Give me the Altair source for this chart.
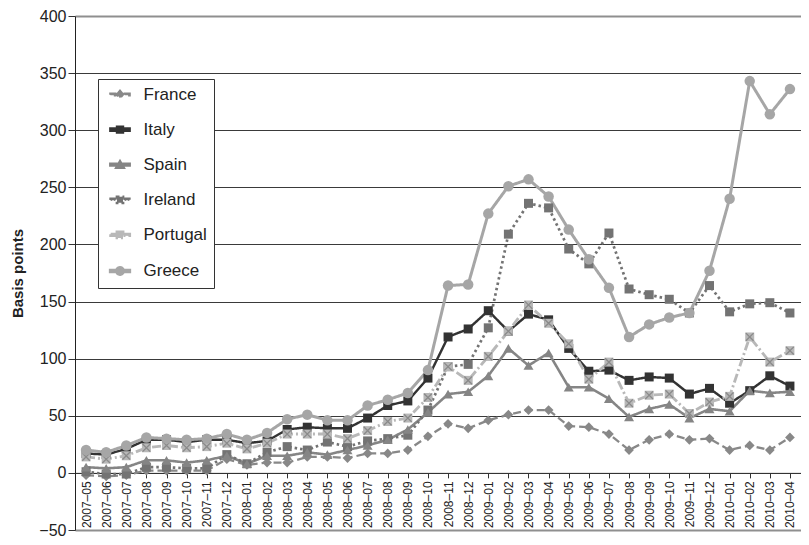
import altair as alt
import pandas as pd

months = ["2007–05", "2007–06", "2007–07", "2007–08", "2007–09", "2007–10", "2007–11", "2007–12",
          "2008–01", "2008–02", "2008–03", "2008–04", "2008–05", "2008–06", "2008–07", "2008–08",
          "2008–09", "2008–10", "2008–11", "2008–12", "2009–01", "2009–02", "2009–03", "2009–04",
          "2009–05", "2009–06", "2009–07", "2009–08", "2009–09", "2009–10", "2009–11", "2009–12",
          "2010–01", "2010–02", "2010–03", "2010–04"]

countries = ["France", "Italy", "Spain", "Ireland", "Portugal", "Greece"]

france = [-2, -3, -2, 2, 2, 2, 2, 12, 7, 9, 9, 14, 14, 13, 17, 17, 20, 32,
          43, 39, 46, 51, 55, 55, 41, 40, 34, 20, 29, 34, 29, 30, 20, 24, 20, 31]
italy = [17, 16, 21, 29, 29, 27, 29, 29, 26, 28, 38, 40, 39, 39, 48, 59, 63, 83,
         119, 126, 142, 124, 139, 134, 109, 89, 90, 81, 84, 83, 69, 74, 61, 72, 85, 76]
spain = [5, 4, 5, 11, 11, 9, 11, 15, 8, 15, 15, 18, 16, 20, 24, 29, 38, 53,
         69, 71, 85, 109, 94, 105, 75, 75, 65, 49, 56, 60, 48, 56, 54, 72, 70, 71]
ireland = [1, -1, -1, 5, 5, 4, 4, 16, 8, 18, 23, 20, 27, 23, 28, 30, 33, 55,
           93, 95, 127, 209, 236, 232, 196, 183, 210, 161, 156, 152, 140, 164, 141, 148, 149, 140]
portugal = [14, 12, 15, 22, 24, 22, 23, 26, 21, 26, 34, 34, 34, 30, 37, 45, 48, 66,
            93, 81, 102, 124, 147, 131, 113, 82, 97, 61, 68, 69, 52, 62, 67, 119, 97, 107]
greece = [20, 18, 24, 31, 30, 29, 30, 34, 29, 35, 47, 51, 46, 46, 59, 64, 70, 90,
          164, 165, 227, 251, 257, 242, 213, 187, 162, 119, 130, 136, 140, 177, 240, 343, 314, 336]

y_ticks = [-50, 0, 50, 100, 150, 200, 250, 300, 350, 400]

series = [france, italy, spain, ireland, portugal, greece]
rows = []
for c, vals in zip(countries, series):
    for m, v in zip(months, vals):
        rows.append({"month": m, "country": c, "value": v})
df = pd.DataFrame(rows)

FONT = "Liberation Sans"
colors = ["#888888", "#333333", "#858585", "#737373", "#b8b8b8", "#a6a6a6"]
dashes = [[8, 4], [1, 0], [1, 0], [2.5, 3], [9, 3, 2, 3], [1, 0]]
widths = [2.3, 3, 2.5, 2.5, 2.5, 2.5]

LEFT, TOP = 67, 8
W, H = 726, 514

# legend symbols (line + marker); path units chosen for the legend's symbol size
u = 8.5
def R(x0, x1, hw):
    return f"M{x0/u:.3f},{-hw/u:.3f}H{x1/u:.3f}V{hw/u:.3f}H{x0/u:.3f}Z"
sq = R(-4.5, 4.5, 4.5)
dia = f"M0,{-5.5/u:.3f}L{4.5/u:.3f},0L0,{5.5/u:.3f}L{-4.5/u:.3f},0Z"
tri = f"M0,{-5/u:.3f}L{5.5/u:.3f},{4.5/u:.3f}L{-5.5/u:.3f},{4.5/u:.3f}Z"
r = 5.2 / u
circ = f"M{r:.3f},0A{r:.3f},{r:.3f} 0 1,1 {-r:.3f},0A{r:.3f},{r:.3f} 0 1,1 {r:.3f},0Z"
legend_paths = [
    R(-14.5, -7, 1.1) + R(7, 14.5, 1.1) + dia,
    R(-14.5, 14.5, 1.6) + sq,
    R(-14.5, 14.5, 1.3) + tri,
    R(-14, -11.5, 1.25) + R(-9.5, -7, 1.25) + sq + R(7, 9.5, 1.25) + R(11.5, 14, 1.25),
    R(-14, -11.5, 1.1) + R(-9.5, -7, 1.1) + sq + R(5, 14.5, 1.1),
    R(-14.5, 14.5, 1.3) + circ,
]

x_enc = alt.X(
    "month:O", sort=months,
    scale=alt.Scale(type="point", padding=0.55),
    axis=alt.Axis(title=None, labelAngle=-90, labelFontSize=12, labelFont=FONT,
                  labelColor="#222222", tickSize=5, tickColor="#333333",
                  domainColor="#333333", offset=-H * 50 / 450, labelPadding=3,
                  grid=False),
)
y_enc = alt.Y(
    "value:Q",
    scale=alt.Scale(domain=[-50, 400], nice=False, zero=False),
    axis=alt.Axis(values=y_ticks, title="Basis points", titleFontSize=15,
                  titleFont=FONT, titleFontWeight="bold", titleColor="#222222",
                  titlePadding=13, labelFontSize=16, labelFont=FONT,
                  labelColor="#222222", labelPadding=2, tickSize=7,
                  tickColor="#333333", domainColor="#222222", grid=True,
                  gridColor={"condition": {"test": "datum.value === 400 || datum.value === -50",
                                           "value": "#8f8f8f"}, "value": "#3a3a3a"},
                  gridWidth={"condition": {"test": "datum.value === 400 || datum.value === -50",
                                           "value": 2}, "value": 1}),
)
color_nl = alt.Color("country:N", scale=alt.Scale(domain=countries, range=colors), legend=None)

base = alt.Chart(df).encode(x=x_enc, y=y_enc)

lines = base.mark_line(strokeJoin="round").encode(
    color=color_nl,
    strokeDash=alt.StrokeDash("country:N", scale=alt.Scale(domain=countries, range=dashes), legend=None),
    strokeWidth=alt.StrokeWidth("country:N", scale=alt.Scale(domain=countries, range=widths), legend=None),
)

fr_pts = base.transform_filter(alt.datum.country == "France").mark_point(
    shape="diamond", filled=True, size=95, opacity=1).encode(color=color_nl)
sq_pts = base.transform_filter(
    alt.FieldOneOfPredicate(field="country", oneOf=["Italy", "Ireland", "Portugal"])
).mark_square(size=81, opacity=1).encode(color=color_nl)
sp_pts = base.transform_filter(alt.datum.country == "Spain").mark_point(
    shape="triangle-up", filled=True, size=100, opacity=1).encode(color=color_nl)
gr_pts = base.transform_filter(alt.datum.country == "Greece").mark_circle(
    size=110, opacity=1).encode(color=color_nl)
pt_x = base.transform_filter(alt.datum.country == "Portugal").mark_point(
    shape="M-0.85,-0.85L0.85,0.85M0.85,-0.85L-0.85,0.85", filled=False,
    stroke="#8a8a8a", strokeWidth=1.3, size=81, opacity=1)

leg = alt.Legend(title=None, orient="none", legendX=23, legendY=79 - 8 - TOP, padding=7,
                 strokeColor="#333333", fillColor="white", labelFontSize=17,
                 labelFont=FONT, labelColor="#222222", symbolSize=128,
                 symbolOffset=6.5, labelOffset=15, rowPadding=17.1,
                 symbolStrokeWidth=0, symbolOpacity=1)

legend_layer = base.transform_filter("false").mark_point(filled=True, opacity=1).encode(
    fill=alt.Fill("country:N", scale=alt.Scale(domain=countries, range=colors), legend=leg),
    shape=alt.Shape("country:N", scale=alt.Scale(domain=countries, range=legend_paths), legend=leg),
)

chart = alt.layer(legend_layer, lines, fr_pts, sq_pts, sp_pts, pt_x, gr_pts).properties(
    width=W, height=H,
    autosize=alt.AutoSizeParams(type="none"),
    padding={"left": LEFT, "top": TOP, "right": 0, "bottom": 7},
    background="white",
).configure_view(stroke=None)

chart.save("out.html", embed_options={"renderer": "svg", "actions": False})
